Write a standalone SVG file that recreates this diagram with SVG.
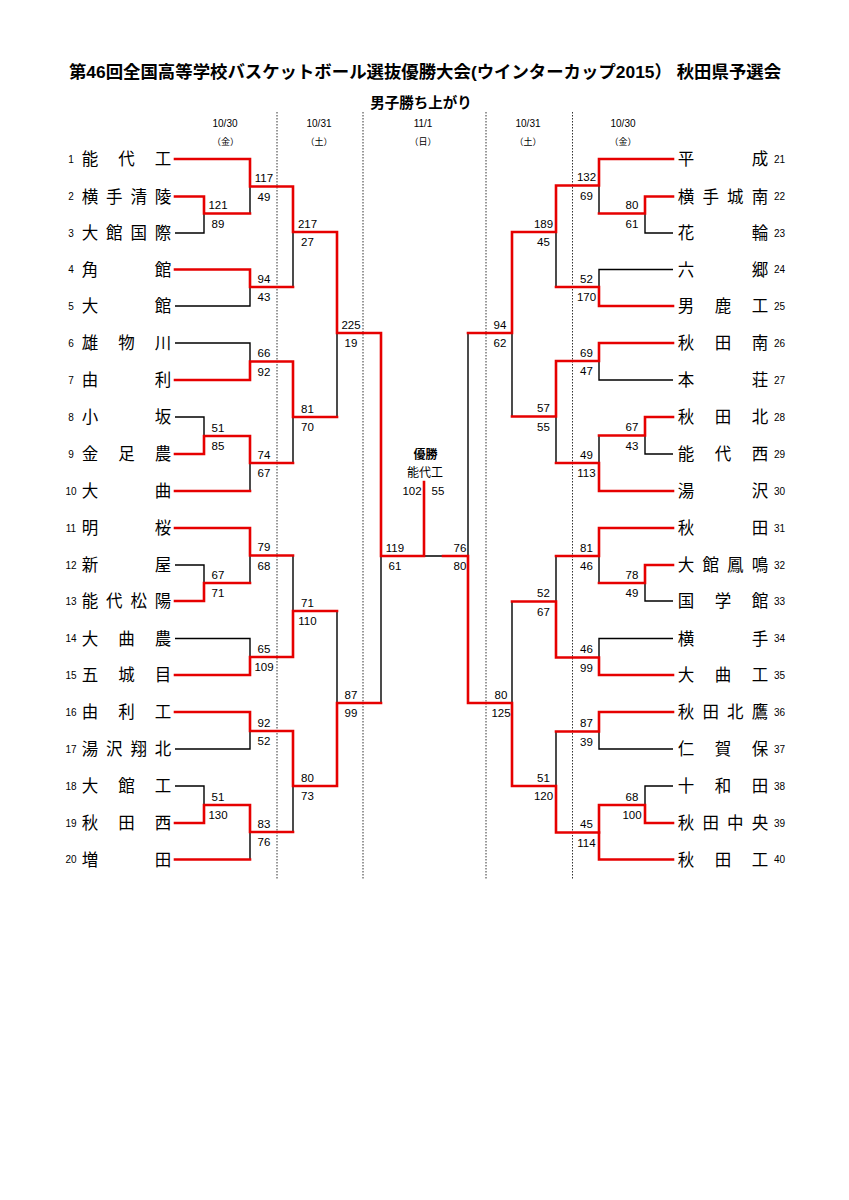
<svg xmlns="http://www.w3.org/2000/svg" width="849" height="1200" viewBox="0 0 849 1200">
<style>
text{font-family:"Liberation Sans","Noto Sans CJK JP",sans-serif;fill:#000}
.title{font-size:17.4px;font-weight:bold}
.sub{font-size:14.5px;font-weight:bold}
.hd{font-size:10px;text-anchor:middle}
.hw{font-size:9px;text-anchor:middle}
.nm{font-size:16.5px;text-anchor:middle}
.no{font-size:10px}
.sc{font-size:11.5px;text-anchor:middle}
.r{fill:none;stroke:#e60000;stroke-width:2.6;stroke-linecap:square;stroke-linejoin:miter}
.k{fill:none;stroke:#000;stroke-width:1.4}
.dot{stroke:#333;stroke-width:1;stroke-dasharray:1.5 1.5}
</style>
<rect width="849" height="1200" fill="#fff"/>
<text class="title" x="425" y="78" text-anchor="middle">第46回全国高等学校バスケットボール選抜優勝大会(ウインターカップ2015） 秋田県予選会</text>
<text class="sub" x="421" y="108" text-anchor="middle">男子勝ち上がり</text>
<g id="headers">
<text class="hd" x="225" y="127">10/30</text><text class="hw" x="225.5" y="145">（金）</text>
<text class="hd" x="319" y="127">10/31</text><text class="hw" x="319" y="145">（土）</text>
<text class="hd" x="423" y="127">11/1</text><text class="hw" x="423" y="145">（日）</text>
<text class="hd" x="528" y="127">10/31</text><text class="hw" x="528" y="145">（土）</text>
<text class="hd" x="623" y="127">10/30</text><text class="hw" x="623" y="145">（金）</text>
</g>
<g id="dividers">
<line class="dot" x1="277" y1="112" x2="277" y2="880"/>
<line class="dot" x1="363" y1="112" x2="363" y2="880"/>
<line class="dot" x1="486" y1="112" x2="486" y2="880"/>
<line class="dot" x1="572.5" y1="112" x2="572.5" y2="880"/>
</g>
<g id="connectors">
<path class="k" d="M175 233H204V213.5M250 186.5V213.5M175 306H250V287M293 232V287M175 343H250V361.5M175 417H204V436M250 463V491M293 417V463M337 333V417M175 565H204V583M250 555.5V583M293 555.5V611M175 638.5H250V657M175 749H250V731M250 832V859.5M175 786H204V805M293 786V832M337 611V703M381 556V703M424 556H443"/>
<path class="k" d="M673 233H645V213.5M599 185.5V213.5M673 269.5H599V287M556 232V287M673 380H599V361M673 454H645V435.5M599 435.5V463M556 416.5V463M512 333V416.5M673 601H645V583M599 556V583M673 638.5H599V657.5M556 556V601.5M673 749H599V731.5M556 731.5V786M673 786H645V805M512 601.5V703M468 333V556"/>
<path class="r" d="M175 159H250V186.5H293V232H337V333H381V556H424V482"/>
<path class="r" d="M175 196.5H204V213.5H250"/>
<path class="r" d="M175 269.5H250V287H293"/>
<path class="r" d="M175 380H250V361.5H293V417H337"/>
<path class="r" d="M175 454H204V436H250V463H293"/>
<path class="r" d="M175 491H250"/>
<path class="r" d="M175 528H250V555.5H293"/>
<path class="r" d="M175 601H204V583H250"/>
<path class="r" d="M175 675H250V657H293V611H337"/>
<path class="r" d="M175 712H250V731H293V786H337V703H381"/>
<path class="r" d="M175 823H204V805H250V832H293"/>
<path class="r" d="M175 859.5H250"/>
<path class="r" d="M673 859.5H599V832.5H556V786H512V703H468V556H443"/>
<path class="r" d="M673 823H645V805H599V832.5"/>
<path class="r" d="M673 159H599V185.5H556V232H512V333H468"/>
<path class="r" d="M673 196.5H645V213.5H599"/>
<path class="r" d="M673 306H599V287H556"/>
<path class="r" d="M673 343H599V361H556V416.5H512"/>
<path class="r" d="M673 417H645V435.5H599"/>
<path class="r" d="M673 491H599V463H556"/>
<path class="r" d="M673 528H599V556H556"/>
<path class="r" d="M673 565H645V583H599"/>
<path class="r" d="M673 675H599V657.5H556V601.5H512"/>
<path class="r" d="M673 712H599V731.5H556"/>
</g>
<g id="scores">
<text class="sc" x="218" y="209">121</text><text class="sc" x="218" y="227.5">89</text>
<text class="sc" x="218" y="431.5">51</text><text class="sc" x="218" y="450">85</text>
<text class="sc" x="218" y="578.5">67</text><text class="sc" x="218" y="597">71</text>
<text class="sc" x="218" y="800.5">51</text><text class="sc" x="218" y="819">130</text>
<text class="sc" x="264" y="182">117</text><text class="sc" x="264" y="200.5">49</text>
<text class="sc" x="264" y="282.5">94</text><text class="sc" x="264" y="301">43</text>
<text class="sc" x="264" y="357">66</text><text class="sc" x="264" y="375.5">92</text>
<text class="sc" x="264" y="458.5">74</text><text class="sc" x="264" y="477">67</text>
<text class="sc" x="264" y="551">79</text><text class="sc" x="264" y="569.5">68</text>
<text class="sc" x="264" y="652.5">65</text><text class="sc" x="264" y="671">109</text>
<text class="sc" x="264" y="726.5">92</text><text class="sc" x="264" y="745">52</text>
<text class="sc" x="264" y="827.5">83</text><text class="sc" x="264" y="846">76</text>
<text class="sc" x="307.5" y="227.5">217</text><text class="sc" x="307.5" y="246">27</text>
<text class="sc" x="307.5" y="412.5">81</text><text class="sc" x="307.5" y="431">70</text>
<text class="sc" x="307.5" y="606.5">71</text><text class="sc" x="307.5" y="625">110</text>
<text class="sc" x="307.5" y="781.5">80</text><text class="sc" x="307.5" y="800">73</text>
<text class="sc" x="351" y="328.5">225</text><text class="sc" x="351" y="347">19</text>
<text class="sc" x="351" y="698.5">87</text><text class="sc" x="351" y="717">99</text>
<text class="sc" x="395" y="551.5">119</text><text class="sc" x="395" y="570">61</text>
<text class="sc" x="632" y="209">80</text><text class="sc" x="632" y="227.5">61</text>
<text class="sc" x="632" y="431">67</text><text class="sc" x="632" y="449.5">43</text>
<text class="sc" x="632" y="578.5">78</text><text class="sc" x="632" y="597">49</text>
<text class="sc" x="632" y="800.5">68</text><text class="sc" x="632" y="819">100</text>
<text class="sc" x="586.5" y="181">132</text><text class="sc" x="586.5" y="199.5">69</text>
<text class="sc" x="586.5" y="282.5">52</text><text class="sc" x="586.5" y="301">170</text>
<text class="sc" x="586.5" y="356.5">69</text><text class="sc" x="586.5" y="375">47</text>
<text class="sc" x="586.5" y="458.5">49</text><text class="sc" x="586.5" y="477">113</text>
<text class="sc" x="586.5" y="551.5">81</text><text class="sc" x="586.5" y="570">46</text>
<text class="sc" x="586.5" y="653">46</text><text class="sc" x="586.5" y="671.5">99</text>
<text class="sc" x="586.5" y="727">87</text><text class="sc" x="586.5" y="745.5">39</text>
<text class="sc" x="586.5" y="828">45</text><text class="sc" x="586.5" y="846.5">114</text>
<text class="sc" x="543.5" y="227.5">189</text><text class="sc" x="543.5" y="246">45</text>
<text class="sc" x="543.5" y="412">57</text><text class="sc" x="543.5" y="430.5">55</text>
<text class="sc" x="543.5" y="597">52</text><text class="sc" x="543.5" y="615.5">67</text>
<text class="sc" x="543.5" y="781.5">51</text><text class="sc" x="543.5" y="800">120</text>
<text class="sc" x="500" y="328.5">94</text><text class="sc" x="500" y="347">62</text>
<text class="sc" x="501" y="698.5">80</text><text class="sc" x="501" y="717">125</text>
<text class="sc" x="460" y="551.5">76</text><text class="sc" x="460" y="570">80</text>
</g>
<g id="champion">
<text x="425.5" y="459" text-anchor="middle" font-size="12" font-weight="bold">優勝</text>
<text x="425" y="477" text-anchor="middle" font-size="12">能代工</text>
<text class="sc" x="412" y="495">102</text><text class="sc" x="438" y="495">55</text>
</g>
<g id="teams-left">
<g id="t1"><text class="no" x="71" y="162.5" text-anchor="middle">1</text><text class="nm" x="90 126.5 163" y="165">能代工</text></g>
<g id="t2"><text class="no" x="71" y="200" text-anchor="middle">2</text><text class="nm" x="90 114.3 138.7 163" y="202.5">横手清陵</text></g>
<g id="t3"><text class="no" x="71" y="236.5" text-anchor="middle">3</text><text class="nm" x="90 114.3 138.7 163" y="239">大館国際</text></g>
<g id="t4"><text class="no" x="71" y="273" text-anchor="middle">4</text><text class="nm" x="90 163" y="275.5">角館</text></g>
<g id="t5"><text class="no" x="71" y="309.5" text-anchor="middle">5</text><text class="nm" x="90 163" y="312">大館</text></g>
<g id="t6"><text class="no" x="71" y="346.5" text-anchor="middle">6</text><text class="nm" x="90 126.5 163" y="349">雄物川</text></g>
<g id="t7"><text class="no" x="71" y="383.5" text-anchor="middle">7</text><text class="nm" x="90 163" y="386">由利</text></g>
<g id="t8"><text class="no" x="71" y="420.5" text-anchor="middle">8</text><text class="nm" x="90 163" y="423">小坂</text></g>
<g id="t9"><text class="no" x="71" y="457.5" text-anchor="middle">9</text><text class="nm" x="90 126.5 163" y="460">金足農</text></g>
<g id="t10"><text class="no" x="71" y="494.5" text-anchor="middle">10</text><text class="nm" x="90 163" y="497">大曲</text></g>
<g id="t11"><text class="no" x="71" y="531.5" text-anchor="middle">11</text><text class="nm" x="90 163" y="534">明桜</text></g>
<g id="t12"><text class="no" x="71" y="568.5" text-anchor="middle">12</text><text class="nm" x="90 163" y="571">新屋</text></g>
<g id="t13"><text class="no" x="71" y="604.5" text-anchor="middle">13</text><text class="nm" x="90 114.3 138.7 163" y="607">能代松陽</text></g>
<g id="t14"><text class="no" x="71" y="642" text-anchor="middle">14</text><text class="nm" x="90 126.5 163" y="644.5">大曲農</text></g>
<g id="t15"><text class="no" x="71" y="678.5" text-anchor="middle">15</text><text class="nm" x="90 126.5 163" y="681">五城目</text></g>
<g id="t16"><text class="no" x="71" y="715.5" text-anchor="middle">16</text><text class="nm" x="90 126.5 163" y="718">由利工</text></g>
<g id="t17"><text class="no" x="71" y="752.5" text-anchor="middle">17</text><text class="nm" x="90 114.3 138.7 163" y="755">湯沢翔北</text></g>
<g id="t18"><text class="no" x="71" y="789.5" text-anchor="middle">18</text><text class="nm" x="90 126.5 163" y="792">大館工</text></g>
<g id="t19"><text class="no" x="71" y="826.5" text-anchor="middle">19</text><text class="nm" x="90 126.5 163" y="829">秋田西</text></g>
<g id="t20"><text class="no" x="71" y="863" text-anchor="middle">20</text><text class="nm" x="90 163" y="865.5">増田</text></g>
</g>
<g id="teams-right">
<g id="t21"><text class="nm" x="686 760" y="165">平成</text><text class="no" x="774" y="162.5">21</text></g>
<g id="t22"><text class="nm" x="686 710.7 735.3 760" y="202.5">横手城南</text><text class="no" x="774" y="200">22</text></g>
<g id="t23"><text class="nm" x="686 760" y="239">花輪</text><text class="no" x="774" y="236.5">23</text></g>
<g id="t24"><text class="nm" x="686 760" y="275.5">六郷</text><text class="no" x="774" y="273">24</text></g>
<g id="t25"><text class="nm" x="686 723 760" y="312">男鹿工</text><text class="no" x="774" y="309.5">25</text></g>
<g id="t26"><text class="nm" x="686 723 760" y="349">秋田南</text><text class="no" x="774" y="346.5">26</text></g>
<g id="t27"><text class="nm" x="686 760" y="386">本荘</text><text class="no" x="774" y="383.5">27</text></g>
<g id="t28"><text class="nm" x="686 723 760" y="423">秋田北</text><text class="no" x="774" y="420.5">28</text></g>
<g id="t29"><text class="nm" x="686 723 760" y="460">能代西</text><text class="no" x="774" y="457.5">29</text></g>
<g id="t30"><text class="nm" x="686 760" y="497">湯沢</text><text class="no" x="774" y="494.5">30</text></g>
<g id="t31"><text class="nm" x="686 760" y="534">秋田</text><text class="no" x="774" y="531.5">31</text></g>
<g id="t32"><text class="nm" x="686 710.7 735.3 760" y="571">大館鳳鳴</text><text class="no" x="774" y="568.5">32</text></g>
<g id="t33"><text class="nm" x="686 723 760" y="607">国学館</text><text class="no" x="774" y="604.5">33</text></g>
<g id="t34"><text class="nm" x="686 760" y="644.5">横手</text><text class="no" x="774" y="642">34</text></g>
<g id="t35"><text class="nm" x="686 723 760" y="681">大曲工</text><text class="no" x="774" y="678.5">35</text></g>
<g id="t36"><text class="nm" x="686 710.7 735.3 760" y="718">秋田北鷹</text><text class="no" x="774" y="715.5">36</text></g>
<g id="t37"><text class="nm" x="686 723 760" y="755">仁賀保</text><text class="no" x="774" y="752.5">37</text></g>
<g id="t38"><text class="nm" x="686 723 760" y="792">十和田</text><text class="no" x="774" y="789.5">38</text></g>
<g id="t39"><text class="nm" x="686 710.7 735.3 760" y="829">秋田中央</text><text class="no" x="774" y="826.5">39</text></g>
<g id="t40"><text class="nm" x="686 723 760" y="865.5">秋田工</text><text class="no" x="774" y="863">40</text></g>
</g>
</svg>
